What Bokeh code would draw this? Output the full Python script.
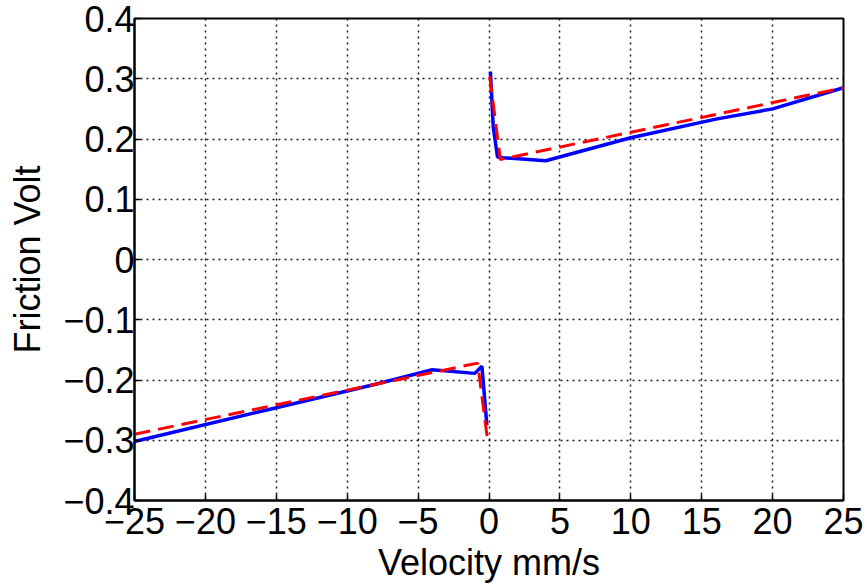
from bokeh.plotting import figure
from bokeh.models import Range1d, FixedTicker
from bokeh.embed import file_html
from bokeh.resources import INLINE

# ---- data ----
# measured friction (blue, solid): positive and negative velocity branches
v_meas_pos = [0.1, 0.3, 0.6, 1.0, 4.0, 10.0, 16.0, 20.0, 25.0]
f_meas_pos = [0.312, 0.22, 0.170, 0.169, 0.164, 0.202, 0.233, 0.250, 0.285]
v_meas_neg = [-25.0, -15.0, -8.0, -4.0, -1.0, -0.5, -0.15]
f_meas_neg = [-0.302, -0.246, -0.207, -0.183, -0.189, -0.177, -0.275]

# model friction (red, dashed)
v_model_pos = [0.05, 0.8, 25.0]
f_model_pos = [0.304, 0.166, 0.285]
v_model_neg = [-25.0, -0.8, -0.1]
f_model_neg = [-0.290, -0.172, -0.300]

x_ticks = [-25, -20, -15, -10, -5, 0, 5, 10, 15, 20, 25]
x_tick_labels = ["\u221225", "\u221220", "\u221215", "\u221210", "\u22125", "0",
                 "5", "10", "15", "20", "25"]
y_ticks = [-0.4, -0.3, -0.2, -0.1, 0.0, 0.1, 0.2, 0.3, 0.4]
y_tick_labels = ["\u22120.4", "\u22120.3", "\u22120.2", "\u22120.1", "0",
                 "0.1", "0.2", "0.3", "0.4"]

x_label = "Velocity mm/s"
y_label = "Friction Volt"

FONT = "Liberation Sans"

p = figure(width=867, height=586, output_backend="svg", toolbar_location=None,
           x_range=Range1d(-25, 25), y_range=Range1d(-0.4, 0.4),
           min_border_left=134, min_border_top=18, min_border_right=24,
           min_border_bottom=86)

p.background_fill_color = "white"
p.border_fill_color = "white"
p.outline_line_color = "black"
p.outline_line_width = 2

# axes
p.xaxis.ticker = FixedTicker(ticks=x_ticks)
p.yaxis.ticker = FixedTicker(ticks=y_ticks)
p.xaxis.major_label_overrides = {t: l for t, l in zip(x_ticks, x_tick_labels)}
p.yaxis.major_label_overrides = {t: l for t, l in zip(y_ticks, y_tick_labels)}
p.xaxis.axis_label = x_label
p.yaxis.axis_label = y_label

for ax in (p.xaxis, p.yaxis):
    ax.axis_line_color = "black"
    ax.axis_line_width = 2
    ax.major_tick_in = 6
    ax.major_tick_out = 0
    ax.major_tick_line_color = "black"
    ax.major_tick_line_width = 1.5
    ax.minor_tick_line_color = None
    ax.major_label_text_font = FONT
    ax.major_label_text_font_size = "36px"
    ax.major_label_text_color = "black"
    ax.major_label_text_line_height = 1.0
    ax.axis_label_text_font = FONT
    ax.axis_label_text_font_size = "36px"
    ax.axis_label_text_font_style = "normal"
    ax.axis_label_text_color = "black"
    ax.axis_label_text_line_height = 1.0

p.xaxis.major_label_standoff = 7
p.xaxis.axis_label_standoff = 5
p.yaxis.major_label_standoff = 0
p.yaxis.axis_label_standoff = 12

# grid: dotted black
for g in (p.xgrid, p.ygrid):
    g.grid_line_color = "black"
    g.grid_line_dash = "2 4"
    g.grid_line_width = 1.5
    g.grid_line_alpha = 0.9

# lines
p.line(v_meas_pos, f_meas_pos, line_color="#0000ff", line_width=3.5)
p.line(v_meas_neg, f_meas_neg, line_color="#0000ff", line_width=3.5)
p.line(v_model_pos, f_model_pos, line_color="#ff0000", line_width=3,
       line_dash="16 8")
p.line(v_model_neg, f_model_neg, line_color="#ff0000", line_width=3,
       line_dash="16 8")

open("out.html", "w").write(file_html(p, INLINE))
